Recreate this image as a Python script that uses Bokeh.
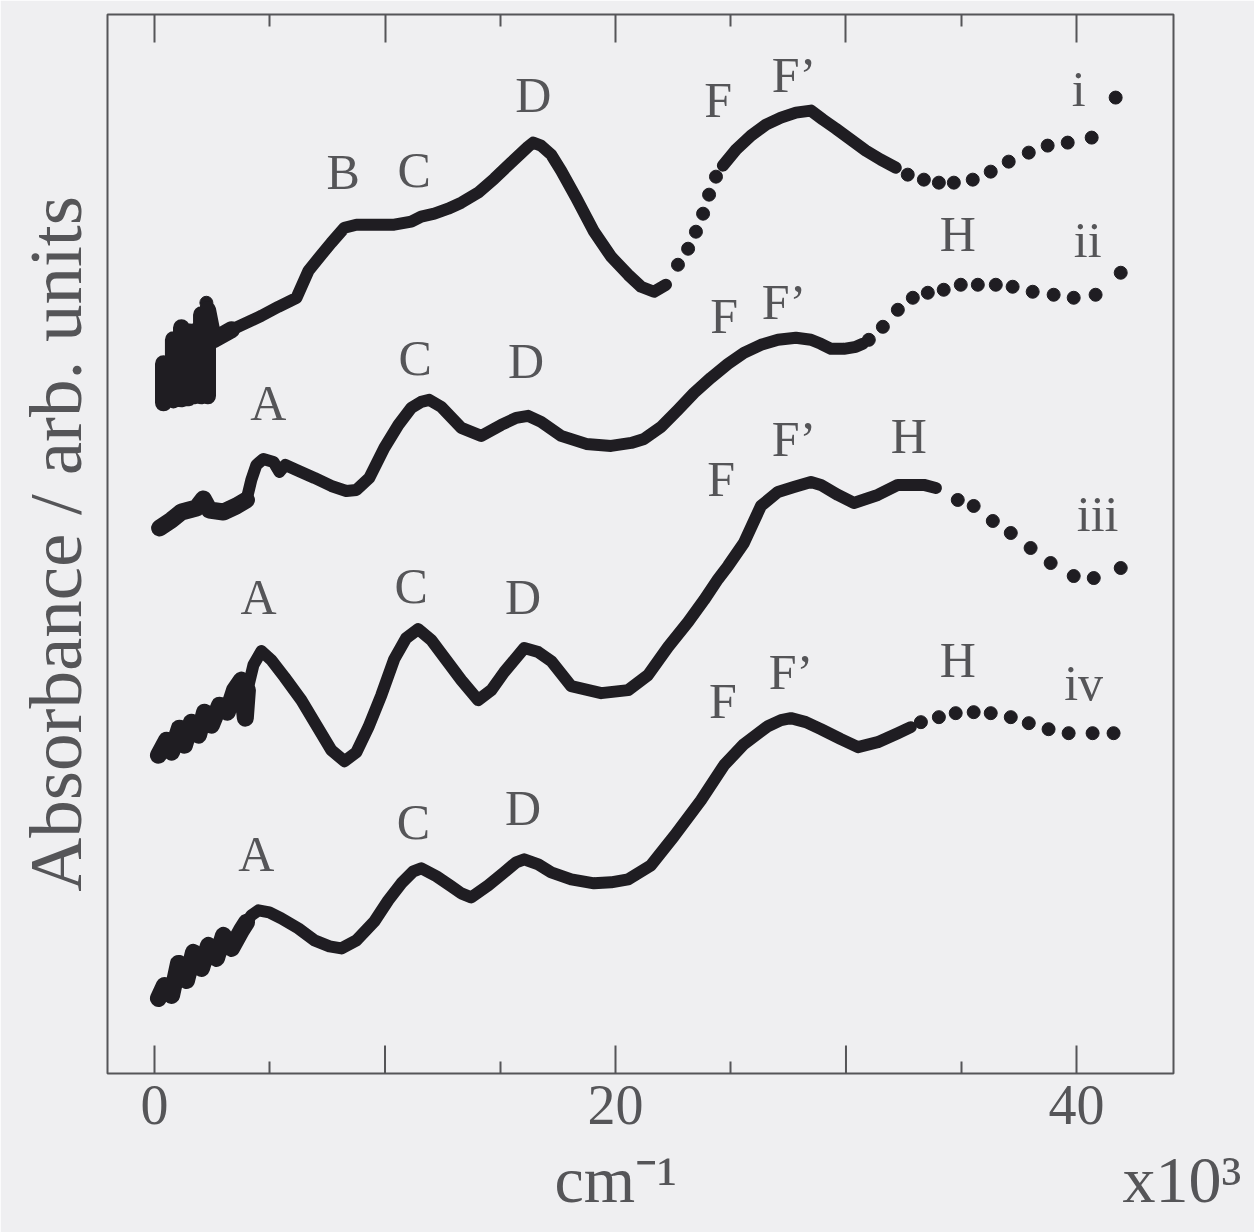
from bokeh.plotting import figure
from bokeh.models import FixedTicker, LinearAxis, Range1d, ColumnDataSource, Title
from bokeh.core.properties import value
from bokeh.embed import file_html
from bokeh.resources import INLINE

NAN = float("nan")

# Wavenumber in units of 10^3 cm^-1, absorbance in arbitrary units (traces offset)
# Trace i: continuous part, steep dotted rise, continuous part near F', dotted tail
i_x1 = [0.39, 0.39, 0.82, 0.82, 1.17, 1.17, 1.47, 1.47, 1.73, 1.73, 2.04, 2.04, 2.30, 2.30, 2.56,
        3.34, 4.64, 5.37, 5.81,
        6.16, 6.68, 7.24, 7.67, 8.24, 8.76, 9.28, 10.40, 11.14, 11.57, 12.14, 12.74, 13.31, 14.04,
        14.74, 15.47, 16.21, 16.43, 16.77, 17.21, 17.64, 18.29, 19.07, 19.81, 20.55, 21.11, 21.67, 22.19]
i_y1 = [67.0, 70.9, 67.3, 73.3, 67.4, 74.5, 67.5, 74.1, 67.7, 74.1, 67.7, 75.8, 67.7, 76.3, 73.3,
        74.3, 75.7, 76.6, 77.1,
        77.5, 80.2, 81.8, 83.0, 84.5, 84.8, 84.8, 84.8, 85.1, 85.6, 85.9, 86.4, 87.0, 88.0,
        89.4, 91.0, 92.6, 93.0, 92.7, 91.8, 90.2, 87.5, 84.1, 81.6, 79.8, 78.6, 78.1, 78.8]
i_x2 = [24.66, 25.23, 25.88, 26.53, 27.18, 27.83, 28.48, 29.00, 29.56, 30.21, 30.86, 31.51, 32.16]
i_y2 = [90.7, 92.3, 93.7, 94.8, 95.5, 96.0, 96.2, 95.3, 94.4, 93.3, 92.2, 91.3, 90.5]
i_dot_x = [2.25, 22.71, 23.15, 23.49, 23.80, 24.06, 24.36,
           32.68, 33.38, 34.03, 34.68, 35.50, 36.28, 37.06, 37.93, 38.75, 39.62, 40.66, 41.70]
i_dot_y = [77.0, 80.8, 82.4, 84.1, 85.9, 87.8, 89.6,
           89.8, 89.3, 89.0, 89.0, 89.3, 90.1, 91.1, 92.0, 92.7, 93.0, 93.5, 97.5]

# Trace ii
ii_x = [0.22, 0.74, 1.17, 1.82, 2.12, 2.38, 2.99, 3.55, 3.99, 4.20, 4.42, 4.72, 5.16, 5.42, 5.68,
        6.16, 6.94, 7.67, 8.32, 8.76, 9.32, 9.97, 10.58, 11.14, 11.57, 11.92, 12.44, 13.31, 14.17,
        15.04, 15.69, 16.21, 16.77, 17.64, 18.73, 19.81, 20.68, 21.24, 21.98, 22.71, 23.41, 24.14,
        24.88, 25.57, 26.31, 27.05, 27.83, 28.48, 28.91, 29.35, 29.91, 30.43, 30.73]
ii_y = [54.5, 55.3, 56.1, 56.5, 57.4, 56.3, 56.1, 56.7, 57.3, 59.3, 60.8, 61.4, 61.1, 60.1, 60.8,
        60.3, 59.5, 58.7, 58.2, 58.3, 59.5, 62.5, 64.8, 66.5, 67.1, 67.3, 66.6, 64.5, 63.7,
        64.8, 65.5, 65.7, 65.1, 63.7, 62.9, 62.7, 63.0, 63.4, 64.6, 66.3, 68.0, 69.5,
        70.9, 72.0, 72.8, 73.3, 73.5, 73.3, 72.9, 72.4, 72.4, 72.6, 72.9]
ii_dot_x = [30.99, 31.60, 32.25, 32.90, 33.55, 34.24, 34.98, 35.72, 36.50, 37.23, 38.10, 39.01,
            39.88, 40.83, 41.92]
ii_dot_y = [73.3, 74.6, 76.3, 77.5, 78.0, 78.3, 78.8, 78.8, 78.8, 78.6, 78.1, 77.8,
            77.5, 77.8, 80.0]

# Trace iii
iii_x = [0.17, 0.52, 0.74, 1.08, 1.30, 1.60, 1.91, 2.17, 2.47, 2.82, 3.16, 3.47, 3.77, 3.94, 4.03,
         4.29, 4.64, 5.07, 5.64, 6.37, 7.02, 7.67, 8.24, 8.76, 9.28, 9.84, 10.40, 10.92, 11.44, 12.01,
         12.66, 13.31, 14.04, 14.61, 15.17, 16.04, 16.65, 17.21, 18.08, 19.38, 20.55, 21.41, 22.28,
         23.15, 23.84, 24.45, 24.88, 25.57, 26.31, 27.05, 27.74, 28.48, 28.91, 29.65, 30.34, 31.38,
         32.25, 33.38, 33.90]
iii_y = [31.8, 33.3, 32.1, 34.5, 32.8, 35.1, 33.8, 36.1, 34.8, 36.8, 36.1, 38.3, 39.3, 35.5, 38.3,
         40.8, 42.2, 41.3, 39.6, 37.3, 34.8, 32.3, 31.2, 32.1, 34.6, 37.8, 41.4, 43.5, 44.4, 43.3,
         41.3, 39.3, 37.3, 38.3, 40.1, 42.5, 42.1, 41.2, 38.7, 38.0, 38.3, 39.8, 42.6,
         45.1, 47.3, 49.4, 50.7, 53.0, 56.7, 58.1, 58.6, 59.1, 58.8, 57.8, 57.0, 57.8,
         58.8, 58.8, 58.5]
iii_dot_x = [34.85, 35.54, 36.37, 37.15, 38.01, 38.88, 39.88, 40.75, 41.92]
iii_dot_y = [57.3, 56.7, 55.2, 54.0, 52.5, 51.0, 49.7, 49.5, 50.5]

# Trace iv
iv_x = [0.17, 0.43, 0.74, 1.04, 1.39, 1.69, 2.04, 2.34, 2.69, 2.99, 3.34, 3.77, 3.99, 4.20, 4.51,
        4.98, 5.50, 6.24,
        6.94, 7.59, 8.11, 8.76, 9.54, 10.14, 10.71, 11.23, 11.57, 12.23, 12.87, 13.31, 13.74,
        14.48, 15.17, 15.69, 16.04, 16.65, 17.21, 18.08, 19.07, 19.81, 20.55, 21.54, 22.54, 23.71,
        24.71, 25.57, 26.61, 27.18, 27.61, 28.26, 28.91, 29.78, 30.52, 31.38, 32.25, 32.81]
iv_y = [7.5, 8.8, 7.8, 11.0, 9.3, 12.1, 10.5, 12.8, 11.5, 13.8, 12.5, 14.3, 15.1, 15.8, 16.3,
        16.1, 15.5, 14.5,
        13.3, 12.7, 12.5, 13.3, 15.2, 17.3, 19.0, 20.2, 20.5, 19.7, 18.7, 18.0, 17.6,
        18.8, 20.1, 21.1, 21.4, 20.9, 20.1, 19.4, 19.0, 19.1, 19.4, 20.8, 23.7, 27.3,
        30.8, 32.9, 34.7, 35.3, 35.5, 35.1, 34.4, 33.4, 32.6, 33.1, 34.0, 34.6]
iv_dot_x = [33.25, 34.03, 34.76, 35.54, 36.28, 37.15, 37.93, 38.79, 39.66, 40.70, 41.61]
iv_dot_y = [35.1, 35.6, 36.0, 36.1, 36.0, 35.6, 35.0, 34.4, 34.0, 34.0, 34.0]

# Band labels
band_text = ["B", "C", "D", "F", "F\u2019", "i",
             "A", "C", "D", "F", "F\u2019", "H", "ii",
             "A", "C", "D", "F", "F\u2019", "H", "iii",
             "A", "C", "D", "F", "F\u2019", "H", "iv"]
band_x = [8.19, 11.27, 16.43, 24.45, 27.74, 40.10,
          4.94, 11.31, 16.12, 24.71, 27.31, 34.85, 40.49,
          4.51, 11.14, 15.99, 24.58, 27.74, 32.73, 40.92,
          4.42, 11.23, 15.99, 24.66, 27.61, 34.85, 40.31]
band_y = [90.1, 90.3, 97.8, 97.3, 99.8, 98.4,
          67.0, 71.5, 71.2, 75.7, 77.1, 83.9, 83.3,
          47.6, 48.7, 47.6, 59.4, 63.4, 63.7, 55.9,
          21.9, 25.1, 26.5, 37.2, 40.1, 41.3, 39.0]

labelled_ticks = [0, 20, 40]
unlabelled_ticks = [10, 30]
minor_ticks = [5, 15, 25, 35]

BG = "#efeff1"
INK = "#1f1d22"
GREY = "#555558"
FONT = "Liberation Serif"
TICK_LEN = 2.8     # long tick length in y-data units (frame is ~10 px per unit)
NOISY_END = 4.1    # the low-wavenumber region where the traces are noisy

p = figure(width=1254, height=1232,
           x_range=Range1d(-2.04, 44.21), y_range=Range1d(0, 105.8),
           output_backend="svg", toolbar_location=None,
           x_axis_location="below", y_axis_location=None,
           min_border_left=106, min_border_right=81,
           min_border_top=14, min_border_bottom=159,
           background_fill_color=BG, border_fill_color=BG,
           outline_line_color=GREY, outline_line_width=2)
p.grid.visible = False

def style_ticks(ax, majors):
    ax.ticker = FixedTicker(ticks=majors, minor_ticks=minor_ticks)
    ax.axis_line_color = None
    ax.major_tick_in = 28
    ax.major_tick_out = 0
    ax.minor_tick_in = 12
    ax.minor_tick_out = 0
    ax.major_tick_line_color = GREY
    ax.major_tick_line_width = 2
    ax.minor_tick_line_color = GREY
    ax.minor_tick_line_width = 2

bottom = p.xaxis[0]
style_ticks(bottom, labelled_ticks)
bottom.major_label_text_font = FONT
bottom.major_label_text_font_size = "56px"
bottom.major_label_text_color = GREY
bottom.major_label_standoff = 12

top_axis = LinearAxis()
style_ticks(top_axis, labelled_ticks + unlabelled_ticks)
top_axis.major_label_text_color = None
top_axis.major_label_standoff = 0
p.add_layout(top_axis, "above")

# long unlabelled ticks on the bottom edge
p.segment(x0=unlabelled_ticks, y0=[0, 0], x1=unlabelled_ticks, y1=[TICK_LEN, TICK_LEN],
          line_color=GREY, line_width=2)

# continuous portions drawn as thick traces, sparse points drawn as dots
traces = [
    (i_x1 + [NAN] + i_x2, i_y1 + [NAN] + i_y2, i_dot_x, i_dot_y),
    (ii_x, ii_y, ii_dot_x, ii_dot_y),
    (iii_x, iii_y, iii_dot_x, iii_dot_y),
    (iv_x, iv_y, iv_dot_x, iv_dot_y),
]
for lx, ly, dx, dy in traces:
    p.line(lx, ly, line_width=12, line_color=INK, line_join="round", line_cap="round")
    p.scatter(dx, dy, size=13, fill_color=INK, line_color=INK)
    # the noisy start of each trace is a broader smudge of overlapping points
    k = next(n for n, v in enumerate(lx) if v > NOISY_END)
    p.line(lx[:k], ly[:k], line_width=17, line_color=INK, line_join="round", line_cap="round")

src = ColumnDataSource(dict(x=band_x, y=band_y, t=band_text))
p.text(x="x", y="y", text="t", source=src, text_font=value(FONT), text_font_size="50px",
       text_color=GREY, text_align="center", text_baseline="middle")

# axis titles
p.add_layout(Title(text="Absorbance / arb. units", align="center", text_font=FONT,
                   text_font_size="75px", text_font_style="normal", text_color=GREY,
                   standoff=22), "left")
gap = "\u00a0" * 27
p.add_layout(Title(text="cm\u207b\u00b9" + gap + "x10\u00b3", align="left", offset=447,
                   text_font=FONT, text_font_size="66px", text_font_style="normal",
                   text_color=GREY, standoff=29), "below")

open("out.html", "w").write(file_html(p, INLINE))
